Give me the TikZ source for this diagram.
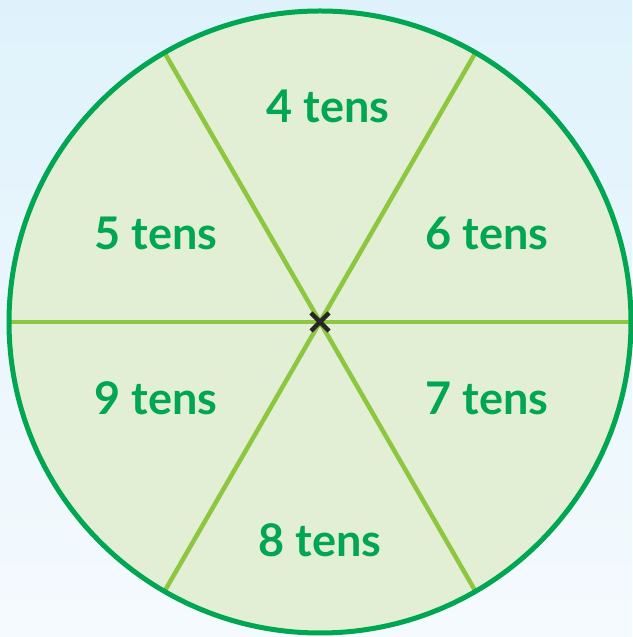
\documentclass[tikz,border=0pt]{standalone}
\usepackage{fontspec}
\setmainfont{Lato}
\usetikzlibrary{calc}
\definecolor{bgtop}{HTML}{DFF2FB}
\definecolor{bgbot}{HTML}{F5FAFE}
\definecolor{rimgreen}{HTML}{00A651}
\definecolor{spokegreen}{HTML}{8DC63F}
\definecolor{sectorfill}{HTML}{E3EFD4}
\definecolor{labelgreen}{HTML}{00A651}
\tikzset{
  seclabel/.style={text=labelgreen, font=\fontsize{45}{45}\selectfont\bfseries, inner sep=0pt},
  spoke/.style={draw=spokegreen, line width=4.5pt},
  rim/.style={draw=rimgreen, line width=5pt},
  crossmark/.style={draw=black!85, line width=4.5pt}
}
\begin{document}
\begin{tikzpicture}[x=1pt,y=1pt]
\useasboundingbox (0,0) rectangle (632,637);
\shade[top color=bgtop, bottom color=bgbot] (0,0) rectangle (632,637);
\coordinate (c) at (320,315);
\fill[sectorfill] (c) circle (311);
\foreach \a/\n in {0/e,60/ne,120/nw,180/w,240/sw,300/se}{
  \coordinate (\n) at ($(c)+(\a:311)$);
}
\draw[spoke] (w) -- (e);
\draw[spoke] (nw) -- (se);
\draw[spoke] (ne) -- (sw);
\draw[rim] (c) circle (311);
\draw[crossmark] ($(c)+(-9,-9)$) -- ($(c)+(9,9)$);
\draw[crossmark] ($(c)+(-9,9)$) -- ($(c)+(9,-9)$);
\node[seclabel] (t4) at (328,531) {4 tens};
\node[seclabel] (t5) at (156,404) {5 tens};
\node[seclabel] (t6) at (487,404) {6 tens};
\node[seclabel] (t9) at (156,239) {9 tens};
\node[seclabel] (t7) at (487,239) {7 tens};
\node[seclabel] (t8) at (320,97) {8 tens};
\end{tikzpicture}
\end{document}
